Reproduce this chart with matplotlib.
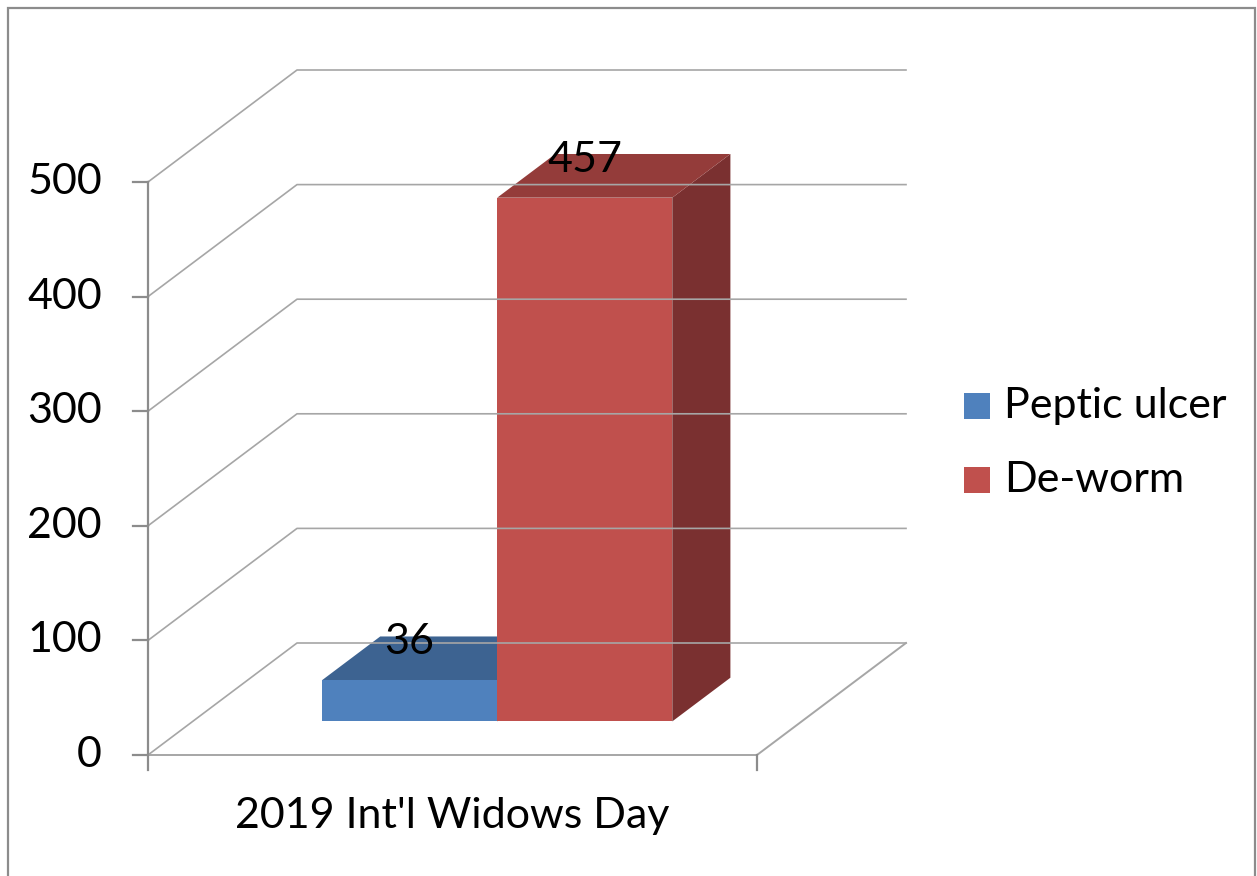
import matplotlib.pyplot as plt
from matplotlib.patches import Polygon, Rectangle

series = ['Peptic ulcer', 'De-worm']
values = [36, 457]
category = "2019 Int'l Widows Day"
yticks = [0, 100, 200, 300, 400, 500]

front_colors = ['#4F81BD', '#C0504D']
top_colors = ['#3D6391', '#943C3A']
side_colors = ['#2F4D72', '#7A3030']

plt.rcParams['font.family'] = ['Lato', 'DejaVu Sans']
FS = 31

W, H = 1257, 876
X0, X1 = 148, 757      # front plane of the category axis, pixels
Y0 = 755               # value 0 on the front plane, pixels
PX_Y = 1.146           # pixels per value unit

fig = plt.figure(figsize=(W / 100, H / 100), dpi=100)
ax = fig.add_axes([0, 0, 1, 1])
ax.set_xlim(-X0 / (X1 - X0), (W - X0) / (X1 - X0))
ax.set_ylim(-(H - Y0) / PX_Y, Y0 / PX_Y)
ax.axis('off')

# depth offset of the back wall
DX = 149 / (X1 - X0)
DY = 112 / PX_Y


def pt(x, v, d):
    return (x + d * DX, v + d * DY)


def fx(px):
    return (px - X0) / (X1 - X0)


def fv(py):
    return (Y0 - py) / PX_Y


grid_c = '#A6A6A6'
axis_c = '#8C8C8C'

# outer frame
ax.plot([fx(8), fx(8), fx(1255), fx(1255)], [fv(880), fv(8), fv(8), fv(880)],
        color=axis_c, lw=1.6, solid_joinstyle='miter', clip_on=False)

# wall gridlines
for v in yticks:
    a, b, c = pt(0, v, 0), pt(0, v, 1), pt(1, v, 1)
    ax.plot([a[0], b[0], c[0]], [a[1], b[1], c[1]], color=grid_c, lw=1.2)
# floor
a, b, c = pt(0, 0, 0), pt(1, 0, 0), pt(1, 0, 1)
ax.plot([a[0], b[0], c[0]], [a[1], b[1], c[1]], color=grid_c, lw=1.4)

# value axis
tick_len = 15 / PX_Y
ax.plot([0, 0], [yticks[-1], -tick_len], color=axis_c, lw=1.6)
ax.plot([1, 1], [0, -tick_len], color=axis_c, lw=1.6)
for v in yticks:
    ax.plot([fx(133), 0], [v, v], color=axis_c, lw=1.6)
    ax.text(fx(102), v, str(v), ha='right', va='center', fontsize=FS)

# bars
bw = 0.2875
d0, d1 = 0.30, 0.69
for i, (name, v) in enumerate(zip(series, values)):
    xl = 0.5 - bw + i * bw
    xr = xl + bw
    front = [pt(xl, 0, d0), pt(xr, 0, d0), pt(xr, v, d0), pt(xl, v, d0)]
    top = [pt(xl, v, d0), pt(xr, v, d0), pt(xr, v, d1), pt(xl, v, d1)]
    side = [pt(xr, 0, d0), pt(xr, 0, d1), pt(xr, v, d1), pt(xr, v, d0)]
    ax.add_patch(Polygon(side, closed=True, facecolor=side_colors[i], edgecolor='none'))
    ax.add_patch(Polygon(top, closed=True, facecolor=top_colors[i], edgecolor='none'))
    ax.add_patch(Polygon(front, closed=True, facecolor=front_colors[i], edgecolor='none'))
    lx, ly = pt((xl + xr) / 2, v, d0)
    ax.text(lx, ly + 38 / PX_Y, str(v), ha='center', va='center', fontsize=FS)

# category label
ax.text(0.5, fv(816), category, ha='center', va='center', fontsize=FS)

# legend
for i, name in enumerate(series):
    cy = 406 + i * 74
    ax.add_patch(Rectangle((fx(964), fv(cy + 13)), fx(990) - fx(964), fv(cy - 13) - fv(cy + 13),
                           facecolor=front_colors[i], edgecolor='none'))
    ax.text(fx(1004), fv(cy), name, ha='left', va='center', fontsize=FS)

fig.savefig('out.png', dpi=100)
